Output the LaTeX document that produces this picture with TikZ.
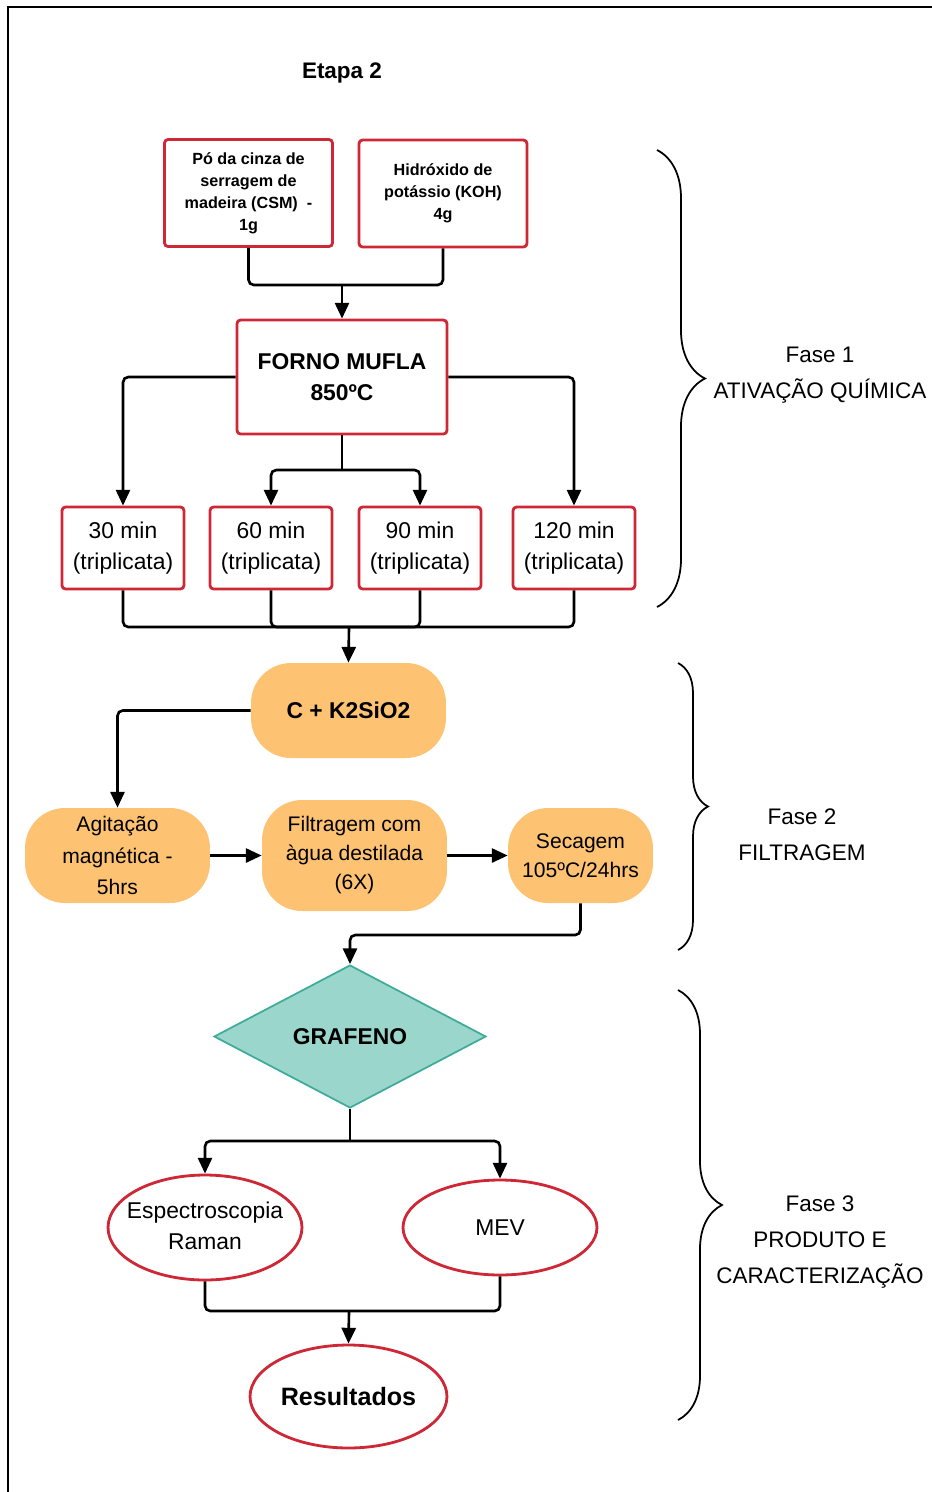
\documentclass[tikz,border=0pt]{standalone}
\usepackage{fontspec}
\setmainfont{Liberation Sans}
\usepackage{xcolor}
\usepackage{tikz}
\usetikzlibrary{shapes.geometric, arrows.meta, positioning, calc, decorations.pathreplacing}
\definecolor{boxred}{RGB}{206,40,55}
\definecolor{boxorange}{RGB}{253,195,115}
\definecolor{tealfill}{RGB}{154,214,203}
\definecolor{tealdraw}{RGB}{62,172,153}
\newcommand{\slimtext}[1]{\makebox[0pt]{\begin{tabular}{@{}c@{}}#1\end{tabular}}}
\tikzstyle{heading} = [font=\bfseries\fontsize{12.8}{15}\selectfont]
\tikzstyle{reagent} = [rectangle, rounded corners=2pt, minimum width=3.36cm, minimum height=2.14cm, text centered, align=center, draw=boxred, line width=1.6pt, font=\bfseries\fontsize{9.2}{12.5}\selectfont]
\tikzstyle{furnace} = [rectangle, rounded corners=2pt, minimum width=4.2cm, minimum height=2.28cm, text centered, align=center, draw=boxred, line width=1.6pt, font=\bfseries\fontsize{13}{18}\selectfont]
\tikzstyle{timebox} = [rectangle, rounded corners=2pt, minimum width=2.44cm, minimum height=1.64cm, inner sep=1pt, text centered, align=center, draw=boxred, line width=1.6pt, font=\fontsize{13}{18}\selectfont]
\tikzstyle{stadium} = [rectangle, rounded corners=0.8cm, minimum width=3.7cm, minimum height=1.9cm, inner sep=1pt, text centered, align=center, fill=boxorange, font=\fontsize{12}{16.5}\selectfont]
\tikzstyle{decision} = [diamond, minimum width=5.44cm, minimum height=2.86cm, inner sep=0pt, text centered, draw=tealdraw, fill=tealfill, line width=1pt, font=\bfseries\fontsize{13}{16}\selectfont]
\tikzstyle{analysis} = [ellipse, minimum width=3.88cm, minimum height=2.1cm, inner sep=0pt, text centered, align=center, draw=boxred, line width=1.6pt, font=\fontsize{13}{18}\selectfont]
\tikzstyle{phaselabel} = [align=center, font=\fontsize{12.8}{20.3}\selectfont]
\tikzstyle{phasebrace} = [decorate, line width=1pt]
\tikzstyle{link} = [line width=1.5pt, rounded corners=3pt]
\tikzstyle{arrow} = [line width=1.5pt, rounded corners=3pt, -{Triangle[length=9pt,width=8pt]}]
\tikzstyle{pageframe} = [line width=1.2pt]

\begin{document}
\begin{tikzpicture}[x=0.02cm, y=-0.02cm]
\useasboundingbox (0,0) rectangle (932,1492);
\draw [pageframe] (8,1492) -- (8,7) -- (932,7);

\node (etapa) [heading] at (342,73) {Etapa 2};

% fase 1
\node (csm) [reagent] at (248.5,193) {Pó da cinza de\\serragem de\\madeira (CSM) \ -\\1g};
\node (koh) [reagent] at (443,193.5) {Hidróxido de\\potássio (KOH)\\4g};
\node (forno) [furnace] at (342,377) {FORNO MUFLA\\850ºC};
\node (t30) [timebox] at (123,548) {30 min\\(triplicata)};
\node (t60) [timebox] at (271,548) {60 min\\(triplicata)};
\node (t90) [timebox] at (420,548) {90 min\\(triplicata)};
\node (t120) [timebox] at (574,548) {120 min\\(triplicata)};

% fase 2
\node (ck) [stadium, minimum width=3.9cm, font=\bfseries\fontsize{13}{16}\selectfont] at (348.5,710.5) {C + K2SiO2};
\node (agit) [stadium, font=\fontsize{12}{17.8}\selectfont, text depth=0pt] at (117.5,855.5) {Agitação\\magnética -\\\raisebox{0pt}[\height][0pt]{5hrs}};
\node (filt) [stadium, minimum height=2.22cm] at (354.5,855.5) {Filtragem com\\àgua destilada\\(6X)};
\node (sec) [stadium, minimum width=2.9cm] at (580.5,855.5) {Secagem\\105ºC/24hrs};

% fase 3
\node (graf) [decision] at (350,1036.5) {GRAFENO};
\node (raman) [analysis] at (205,1227.5) {\slimtext{Espectroscopia\\Raman}};
\node (mev) [analysis, minimum height=1.9cm] at (500,1227.5) {MEV};
\node (res) [analysis, minimum width=3.94cm, minimum height=2.06cm, font=\bfseries\fontsize{14.3}{17}\selectfont] at (348.5,1396.5) {Resultados};

\coordinate (j1) at (342,285);
\coordinate (j2) at (342,470);
\coordinate (j3) at (349,627);
\coordinate (j4) at (350,935);
\coordinate (j5) at (350,1141);
\coordinate (j6) at (349,1311);

\draw [link] (csm.south) |- (j1);
\draw [link] (koh.south) |- (j1);
\draw [arrow] (j1) -- (forno.north);
\draw [arrow] (forno.west) -| (t30.north);
\draw [arrow] (forno.east) -| (t120.north);
\draw [link] (forno.south) -- (j2);
\draw [arrow] (j2) -| (t60.north);
\draw [arrow] (j2) -| (t90.north);
\foreach \b in {t30,t60,t90,t120}
  \draw [link] (\b.south) |- (j3);
\draw [arrow] (j3) -- (ck.north);
\draw [arrow] (ck.west) -| (agit.north);
\draw [arrow] (agit) -- (filt);
\draw [arrow] (filt) -- (sec);
\draw [arrow] (sec.south) |- (j4) -- (graf.north);
\draw [link] (graf.south) -- (j5);
\draw [arrow] (j5) -| (raman.north);
\draw [arrow] (j5) -| (mev.north);
\draw [link] (raman.south) |- (j6);
\draw [link] (mev.south) |- (j6);
\draw [arrow] (j6) -- (res.north);

% chaves
\coordinate (b1top) at (657,150);
\coordinate (b1bot) at (657,607);
\coordinate (b2top) at (678,663);
\coordinate (b2bot) at (678,950);
\coordinate (b3top) at (678,990);
\coordinate (b3bot) at (678,1420);
\draw [phasebrace, decoration={brace, amplitude=0.96cm}] (b1top) -- (b1bot);
\draw [phasebrace, decoration={brace, amplitude=0.6cm}] (b2top) -- (b2bot);
\draw [phasebrace, decoration={brace, amplitude=0.88cm}] (b3top) -- (b3bot);

\node (fase1) [phaselabel] at (820,375) {Fase 1\\ATIVAÇÃO QUÍMICA};
\node (fase2) [phaselabel] at (802,834.5) {Fase 2\\FILTRAGEM};
\node (fase3) [phaselabel] at (820,1242) {Fase 3\\PRODUTO E\\CARACTERIZAÇÃO};

\end{tikzpicture}
\end{document}
